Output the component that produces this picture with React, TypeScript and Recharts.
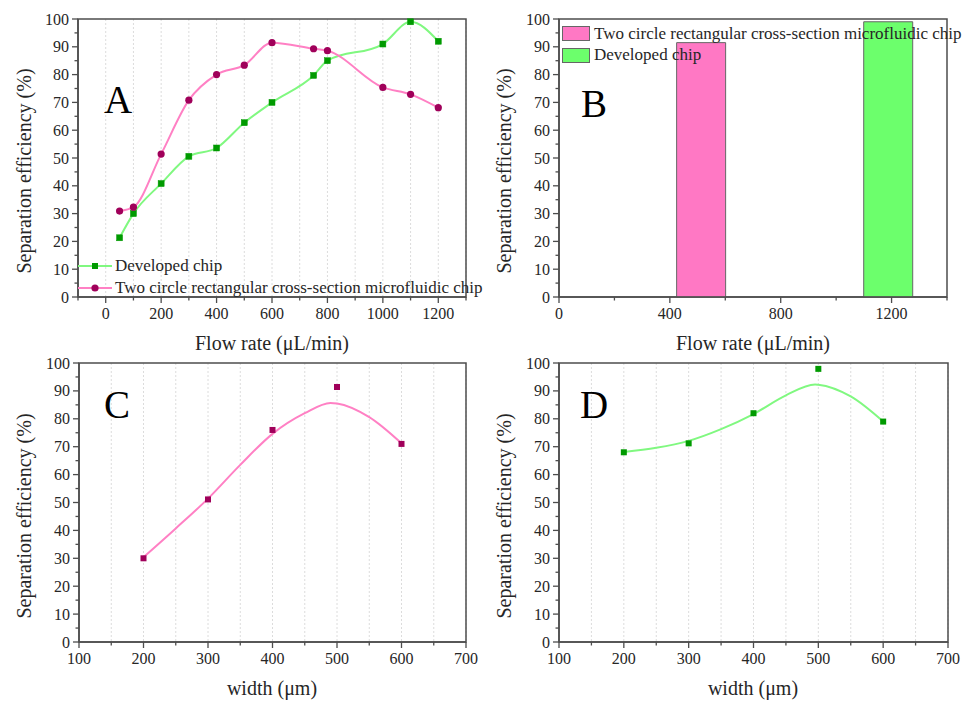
import React from 'react';
import {
  LineChart,
  Line,
  ComposedChart,
  Bar,
  Scatter,
  XAxis,
  YAxis,
  CartesianGrid,
  ReferenceArea,
  Legend,
} from 'recharts';

// A: efficiency vs flow rate for both chips
const flowRatesA = [50, 100, 200, 300, 400, 500, 600, 750, 800, 1000, 1100, 1200];
const developedA = [21.3, 30, 40.8, 50.6, 53.6, 62.7, 70, 79.7, 85, 91, 99, 92];
const twoCircleA = [30.9, 32.3, 51.4, 70.8, 80, 83.4, 91.5, 89.3, 88.6, 75.4, 72.9, 68.1];

// B: best result of each chip
const flowRatesB = [513, 1188];
const twoCircleB = [91.5, null];
const developedB = [null, 99];

// C / D: efficiency vs channel width
const widths = [200, 300, 400, 500, 600];
const twoCircleC = [30, 51.1, 76, 91.4, 71];
const developedD = [68, 71.2, 82, 97.9, 79];

// fitted curves
const fitWidthsC = [200, 250, 300, 350, 400, 450, 490, 500, 550, 600];
const fitC = [30.4, 40.7, 51.4, 63.5, 74.6, 82, 85.7, 85.5, 80.6, 71.2];
const fitWidthsD = [200, 250, 300, 350, 400, 450, 495, 500, 550, 600];
const fitD = [68.1, 69.6, 72.1, 76.3, 81.7, 88.4, 92.3, 92.2, 88, 79];

// tick values
const effTicks = [0, 5, 10, 15, 20, 25, 30, 35, 40, 45, 50, 55, 60, 65, 70, 75, 80, 85, 90, 95, 100];
const flowTicksA = [-100, 0, 100, 200, 300, 400, 500, 600, 700, 800, 900, 1000, 1100, 1200, 1300];
const flowTicksB = [0, 200, 400, 600, 800, 1000, 1200, 1400];
const widthTicks = [100, 150, 200, 250, 300, 350, 400, 450, 500, 550, 600, 650, 700];

const rowsA = flowRatesA.map((x, i) => ({ x, developed: developedA[i], twoCircle: twoCircleA[i] }));
const rowsB = flowRatesB.map((x, i) => ({ x, twoCircle: twoCircleB[i], developed: developedB[i] }));
const pointsC = widths.map((x, i) => ({ x, y: twoCircleC[i] }));
const pointsD = widths.map((x, i) => ({ x, y: developedD[i] }));
const fitRowsC = fitWidthsC.map((x, i) => ({ x, y: fitC[i] }));
const fitRowsD = fitWidthsD.map((x, i) => ({ x, y: fitD[i] }));

const SERIF = '"Liberation Serif", "Times New Roman", serif';
const AXIS = '#4d4d4d';
const GRID = '#dcdcdc';
const TEXT = '#262626';
const PINK = '#FF80C4';
const PINK_MK = '#A0005A';
const GREEN = '#80F880';
const GREEN_MK = '#009A00';
const PINK_BAR = '#FF78C4';
const GREEN_BAR = '#6CFF6C';

const makeXTick = (isMajor: (v: number) => boolean) => (props: any) => {
  const { x, y, payload } = props;
  const major = isMajor(payload.value);
  return (
    <g>
      <line x1={x} x2={x} y1={y} y2={y + (major ? 6 : 3.5)} stroke={AXIS} strokeWidth={1.3} />
      {major && (
        <text x={x} y={y + 22} textAnchor="middle" fontSize={16} fontFamily={SERIF} fill={TEXT}>
          {payload.value}
        </text>
      )}
    </g>
  );
};

const yTick = (props: any) => {
  const { x, y, payload } = props;
  const major = payload.value % 10 === 0;
  return (
    <g>
      <line x1={x} x2={x - (major ? 6 : 3.5)} y1={y} y2={y} stroke={AXIS} strokeWidth={1.3} />
      {major && (
        <text x={x - 9} y={y + 5.5} textAnchor="end" fontSize={16} fontFamily={SERIF} fill={TEXT}>
          {payload.value}
        </text>
      )}
    </g>
  );
};

const tickA = makeXTick((v) => v >= 0 && v <= 1200 && v % 200 === 0);
const tickB = makeXTick((v) => v % 400 === 0 && v < 1400);
const tickW = makeXTick((v) => v % 100 === 0);

const squareDot = (color: string) => (p: any) =>
  p.cx == null ? null : (
    <rect key={`s${p.index}`} x={p.cx - 3} y={p.cy - 3} width={6} height={6} fill={color} stroke={color} strokeWidth={0.5} />
  );
const circleDot = (p: any) =>
  p.cx == null ? null : <circle key={`c${p.index}`} cx={p.cx} cy={p.cy} r={3.6} fill={PINK_MK} />;

const squareShape = (color: string) => (p: any) => (
  <rect x={p.cx - 3} y={p.cy - 3} width={6} height={6} fill={color} />
);

const sortBy = (order: string[]) => (payload: any[]) =>
  payload.slice().sort((a, b) => order.indexOf(a.dataKey) - order.indexOf(b.dataKey));

const legendA = (props: any) => (
  <div style={{ fontFamily: SERIF, fontSize: 17, color: TEXT, whiteSpace: 'nowrap' }}>
    {sortBy(['developed', 'twoCircle'])(props.payload || []).map((e: any) => (
      <div key={e.dataKey} style={{ display: 'flex', alignItems: 'center', height: 22 }}>
        <svg width={37} height={12} style={{ display: 'block' }}>
          <line x1={0} x2={34} y1={6} y2={6} stroke={e.color} strokeWidth={2} />
          {e.dataKey === 'developed' ? (
            <rect x={14} y={3} width={6} height={6} fill={GREEN_MK} />
          ) : (
            <circle cx={17} cy={6} r={3.6} fill={PINK_MK} />
          )}
        </svg>
        <span>{e.value}</span>
      </div>
    ))}
  </div>
);

const legendB = (props: any) => (
  <div style={{ fontFamily: SERIF, fontSize: 17, color: TEXT, whiteSpace: 'nowrap' }}>
    {sortBy(['twoCircle', 'developed'])(props.payload || []).map((e: any) => (
      <div key={e.dataKey} style={{ display: 'flex', alignItems: 'center', height: 21.5 }}>
        <div
          style={{ width: 26, height: 13, background: e.color, border: '1px solid #666', marginRight: 4 }}
        />
        <span>{e.value}</span>
      </div>
    ))}
  </div>
);

const axisLine = { stroke: AXIS, strokeWidth: 1.5 };

// shared axis props: 1px thick axes so the ticks sit right on the frame
const xAxisBase = {
  type: 'number' as const,
  dataKey: 'x',
  interval: 0,
  height: 1,
  tickSize: 0,
  tickMargin: 0,
  tickLine: false,
  axisLine,
};
const yAxisBase = {
  type: 'number' as const,
  domain: [0, 100],
  ticks: effTicks,
  interval: 0,
  width: 1,
  tickSize: 0,
  tickMargin: 0,
  tickLine: false,
  tick: yTick,
  axisLine,
};

export default function App() {
  return (
    <div style={{ position: 'absolute', left: 0, top: 0, width: 963, height: 701, background: '#fff' }}>
      {/* A */}
      <div style={{ position: 'absolute', left: 0, top: 0 }}>
        <LineChart width={481} height={350} data={rowsA} margin={{ top: 19, right: 15, bottom: 52, left: 77 }}>
          <CartesianGrid horizontal={false} strokeDasharray="2 2" stroke={GRID} />
          <XAxis {...xAxisBase} domain={[-100, 1300]} ticks={flowTicksA} tick={tickA} />
          <YAxis {...yAxisBase} />
          <ReferenceArea x1={-100} x2={1300} y1={0} y2={100} fill="none" stroke={AXIS} strokeWidth={1.5} />
          <Line
            type="monotone"
            dataKey="developed"
            name="Developed chip"
            stroke={GREEN}
            strokeWidth={2}
            dot={squareDot(GREEN_MK)}
            isAnimationActive={false}
          />
          <Line
            type="monotone"
            dataKey="twoCircle"
            name="Two circle rectangular cross-section microfluidic chip"
            stroke={PINK}
            strokeWidth={2}
            dot={circleDot}
            isAnimationActive={false}
          />
          <Legend
            layout="vertical"
            align="center"
            verticalAlign="middle"
            content={legendA}
            wrapperStyle={{ left: 78, top: 255, width: 420 }}
          />
        </LineChart>
      </div>

      {/* B */}
      <div style={{ position: 'absolute', left: 481, top: 0 }}>
        <ComposedChart width={482} height={350} data={rowsB} margin={{ top: 19, right: 16, bottom: 52, left: 77 }}>
          <XAxis {...xAxisBase} domain={[0, 1400]} ticks={flowTicksB} tick={tickB} />
          <YAxis {...yAxisBase} />
          <Bar
            dataKey="twoCircle"
            name="Two circle rectangular cross-section microfluidic chip"
            stackId="b"
            barSize={49}
            fill={PINK_BAR}
            stroke="#666"
            strokeWidth={1}
            isAnimationActive={false}
          />
          <Bar
            dataKey="developed"
            name="Developed chip"
            stackId="b"
            barSize={49}
            fill={GREEN_BAR}
            stroke="#666"
            strokeWidth={1}
            isAnimationActive={false}
          />
          <ReferenceArea x1={0} x2={1400} y1={0} y2={100} fill="none" stroke={AXIS} strokeWidth={1.5} />
          <Legend
            layout="vertical"
            align="center"
            verticalAlign="middle"
            content={legendB}
            wrapperStyle={{ left: 81, top: 23, width: 400 }}
          />
        </ComposedChart>
      </div>

      {/* C */}
      <div style={{ position: 'absolute', left: 0, top: 350 }}>
        <ComposedChart width={481} height={351} margin={{ top: 13, right: 15, bottom: 58, left: 78 }}>
          <CartesianGrid horizontal={false} strokeDasharray="2 2" stroke={GRID} />
          <XAxis {...xAxisBase} domain={[100, 700]} ticks={widthTicks} tick={tickW} />
          <YAxis {...yAxisBase} />
          <ReferenceArea x1={100} x2={700} y1={0} y2={100} fill="none" stroke={AXIS} strokeWidth={1.5} />
          <Line data={fitRowsC} type="monotone" dataKey="y" stroke={PINK} strokeWidth={2} dot={false} isAnimationActive={false} />
          <Scatter data={pointsC} dataKey="y" shape={squareShape(PINK_MK)} isAnimationActive={false} />
        </ComposedChart>
      </div>

      {/* D */}
      <div style={{ position: 'absolute', left: 481, top: 350 }}>
        <ComposedChart width={482} height={351} margin={{ top: 13, right: 15, bottom: 58, left: 77 }}>
          <CartesianGrid horizontal={false} strokeDasharray="2 2" stroke={GRID} />
          <XAxis {...xAxisBase} domain={[100, 700]} ticks={widthTicks} tick={tickW} />
          <YAxis {...yAxisBase} />
          <ReferenceArea x1={100} x2={700} y1={0} y2={100} fill="none" stroke={AXIS} strokeWidth={1.5} />
          <Line data={fitRowsD} type="monotone" dataKey="y" stroke={GREEN} strokeWidth={2} dot={false} isAnimationActive={false} />
          <Scatter data={pointsD} dataKey="y" shape={squareShape(GREEN_MK)} isAnimationActive={false} />
        </ComposedChart>
      </div>

      {/* titles and panel letters */}
      <svg
        width={963}
        height={701}
        style={{ position: 'absolute', left: 0, top: 0, pointerEvents: 'none' }}
        fontFamily={SERIF}
        fill={TEXT}
      >
        <text x={31} y={171} transform="rotate(-90 31 171)" textAnchor="middle" fontSize={20}>
          Separation efficiency (%)
        </text>
        <text x={511} y={171} transform="rotate(-90 511 171)" textAnchor="middle" fontSize={20}>
          Separation efficiency (%)
        </text>
        <text x={31} y={516} transform="rotate(-90 31 516)" textAnchor="middle" fontSize={20}>
          Separation efficiency (%)
        </text>
        <text x={511} y={516} transform="rotate(-90 511 516)" textAnchor="middle" fontSize={20}>
          Separation efficiency (%)
        </text>
        <text x={272} y={350} textAnchor="middle" fontSize={20}>Flow rate (μL/min)</text>
        <text x={753} y={350} textAnchor="middle" fontSize={20}>Flow rate (μL/min)</text>
        <text x={272} y={695} textAnchor="middle" fontSize={20}>width (μm)</text>
        <text x={753} y={695} textAnchor="middle" fontSize={20}>width (μm)</text>
        <text x={104} y={113} fontSize={39} fill="#000">A</text>
        <text x={581} y={117} fontSize={39} fill="#000">B</text>
        <text x={104} y={418} fontSize={39} fill="#000">C</text>
        <text x={580} y={418} fontSize={39} fill="#000">D</text>
      </svg>
    </div>
  );
}
